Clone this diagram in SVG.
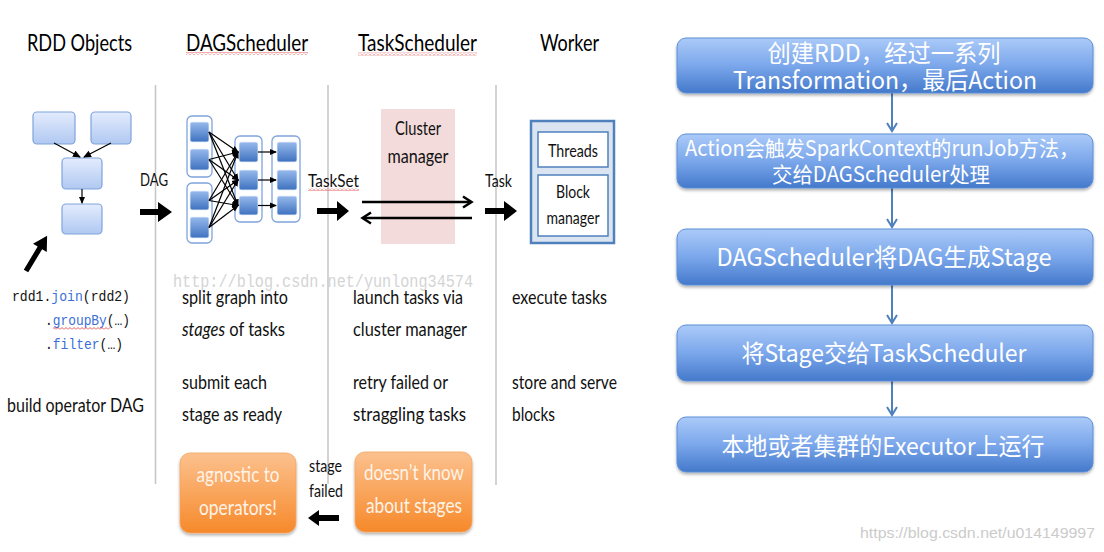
<svg xmlns="http://www.w3.org/2000/svg" width="1104" height="552" viewBox="0 0 1104 552">
<defs>
<linearGradient id="gRdd" x1="0" y1="0" x2="0" y2="1"><stop offset="0" stop-color="#e3ecfd"/><stop offset="1" stop-color="#b0c8f1"/></linearGradient>
<linearGradient id="gSq" x1="0" y1="0" x2="0" y2="1"><stop offset="0" stop-color="#97baec"/><stop offset="1" stop-color="#3e71bf"/></linearGradient>
<linearGradient id="gFlow" x1="0" y1="0" x2="0" y2="1"><stop offset="0" stop-color="#abcaf8"/><stop offset="0.5" stop-color="#7ba7eb"/><stop offset="1" stop-color="#4479cb"/></linearGradient>
<linearGradient id="gOr" x1="0" y1="0" x2="0" y2="1"><stop offset="0" stop-color="#fcc18e"/><stop offset="1" stop-color="#f6892a"/></linearGradient>
<filter id="sh" x="-10%" y="-10%" width="120%" height="140%"><feDropShadow dx="0" dy="2" stdDeviation="1.5" flood-color="#000" flood-opacity="0.3"/></filter>
<marker id="mk" markerWidth="7" markerHeight="7" refX="6" refY="3.5" orient="auto" markerUnits="userSpaceOnUse"><path d="M0,0.5 L7,3.5 L0,6.5 z" fill="#000"/></marker>
<marker id="mk2" markerWidth="8" markerHeight="8" refX="7" refY="4" orient="auto" markerUnits="userSpaceOnUse"><path d="M0,0.5 L8,4 L0,7.5 z" fill="#000"/></marker>
<pattern id="wave" x="0" y="0" width="4" height="3" patternUnits="userSpaceOnUse"><path d="M0,2.5 L2,0.5 L4,2.5" fill="none" stroke="#e03030" stroke-width="0.8"/></pattern>
<style>
.h{font-family:Lato,"Open Sans",sans-serif;font-size:24px;fill:#000}
.t{font-family:Lato,"Open Sans",sans-serif;font-size:20px;fill:#111}
.sm{font-family:Lato,"Open Sans",sans-serif;font-size:18px;fill:#111}
.code{font-family:"Liberation Mono",monospace;font-size:15px;fill:#111}
.kw{fill:#3a6fd8}
.ot{font-family:Lato,"Open Sans",sans-serif;font-size:22px;fill:#fff3e8}
.ft{font-family:"Noto Sans CJK SC",sans-serif;fill:#fff;text-anchor:middle}
.rule{stroke:#c4c4c4;stroke-width:1.5}
.rdd{fill:url(#gRdd);stroke:#7fa4dc;stroke-width:1.2}
.sq{fill:url(#gSq);stroke:#e8f0fc;stroke-width:0.8}
.grp{fill:#fff;stroke:#7fa4dc;stroke-width:1.3}
.flow{fill:url(#gFlow);stroke:#5d8fd6;stroke-width:1;filter:url(#sh)}
.orb{fill:url(#gOr);stroke:#f4a460;stroke-width:0.8;filter:url(#sh)}
.blk{fill:#000}
.thin{stroke:#000;stroke-width:1.2;fill:none}
.fa{stroke:#4f81bd;stroke-width:2;fill:none}
</style>
</defs>
<rect width="1104" height="552" fill="#fff"/>

<!-- column rules -->
<line class="rule" x1="155.5" y1="85" x2="155.5" y2="484"/>
<line class="rule" x1="328" y1="85" x2="328" y2="484"/>
<line class="rule" x1="496" y1="85" x2="496" y2="485"/>

<!-- headings -->
<g id="headings">
<text class="h" x="27" y="51" textLength="105" lengthAdjust="spacingAndGlyphs">RDD Objects</text>
<text class="h" x="186" y="51" textLength="122" lengthAdjust="spacingAndGlyphs">DAGScheduler</text>
<rect x="186" y="52" width="122" height="3" fill="url(#wave)"/>
<text class="h" x="358" y="51" textLength="119" lengthAdjust="spacingAndGlyphs">TaskScheduler</text>
<rect x="358" y="52.5" width="119" height="3" fill="url(#wave)"/>
<text class="h" x="540" y="51" textLength="59" lengthAdjust="spacingAndGlyphs">Worker</text>
</g>

<!-- watermark -->
<text x="173" y="287" font-family="'Liberation Mono',monospace" font-size="18" fill="#d4d4d4" textLength="300" lengthAdjust="spacingAndGlyphs">http://blog.csdn.net/yunlong34574</text>

<!-- RDD objects -->
<g id="rdd-graph">
<rect class="rdd" x="33" y="112" width="42" height="32" rx="4"/>
<rect class="rdd" x="91" y="112" width="40" height="32" rx="4"/>
<rect class="rdd" x="62" y="158" width="40" height="31" rx="4"/>
<rect class="rdd" x="62" y="204" width="40" height="30" rx="4"/>
</g>

<!-- DAG scheduler graph -->
<g id="dag-graph">
<rect class="grp" x="187" y="116" width="25" height="61" rx="5"/>
<rect class="grp" x="187" y="183" width="25" height="60" rx="5"/>
<rect class="grp" x="235" y="136" width="27" height="86" rx="5"/>
<rect class="grp" x="272" y="136" width="28" height="86" rx="5"/>
<rect class="sq" x="190" y="122" width="19" height="20" rx="2"/>
<rect class="sq" x="190" y="149" width="19" height="21" rx="2"/>
<rect class="sq" x="190" y="191" width="19" height="19" rx="2"/>
<rect class="sq" x="190" y="217" width="19" height="21" rx="2"/>
<rect class="sq" x="239" y="142" width="19" height="20" rx="2"/>
<rect class="sq" x="239" y="170" width="19" height="20" rx="2"/>
<rect class="sq" x="239" y="196" width="19" height="19" rx="2"/>
<rect class="sq" x="277" y="142" width="20" height="20" rx="2"/>
<rect class="sq" x="277" y="170" width="20" height="20" rx="2"/>
<rect class="sq" x="277" y="196" width="20" height="19" rx="2"/>
</g>

<!-- Cluster manager -->
<g id="cluster-manager">
<rect x="381" y="109" width="74" height="135" fill="#f2dbda"/>
<text class="t" x="418" y="135" text-anchor="middle" textLength="46" lengthAdjust="spacingAndGlyphs">Cluster</text>
<text class="t" x="418" y="163" text-anchor="middle" textLength="61" lengthAdjust="spacingAndGlyphs">manager</text>
</g>

<!-- Worker -->
<g id="worker">
<rect x="531" y="121" width="83" height="122" fill="#dbe5f1" stroke="#4f81bd" stroke-width="2.5"/>
<rect x="538" y="132" width="70" height="35" fill="#fff" stroke="#4f81bd" stroke-width="1.5"/>
<rect x="538" y="175" width="70" height="61" fill="#fff" stroke="#4f81bd" stroke-width="1.5"/>
<text class="sm" x="573" y="157" text-anchor="middle" textLength="50" lengthAdjust="spacingAndGlyphs">Threads</text>
<text class="sm" x="573" y="198" text-anchor="middle" textLength="34" lengthAdjust="spacingAndGlyphs">Block</text>
<text class="sm" x="573" y="224" text-anchor="middle" textLength="53" lengthAdjust="spacingAndGlyphs">manager</text>
</g>

<!-- connectors -->
<g id="connectors">
<line class="thin" stroke-width="2" x1="54" y1="143" x2="80" y2="157" marker-end="url(#mk2)"/>
<line class="thin" stroke-width="2" x1="111" y1="143" x2="84" y2="157" marker-end="url(#mk2)"/>
<line class="thin" stroke-width="1.6" x1="82" y1="189" x2="82" y2="203" marker-end="url(#mk)"/>
<line class="thin" x1="209" y1="132" x2="238" y2="152" marker-end="url(#mk)"/>
<line class="thin" x1="209" y1="132" x2="238" y2="180" marker-end="url(#mk)"/>
<line class="thin" x1="209" y1="132" x2="238" y2="205.5" marker-end="url(#mk)"/>
<line class="thin" x1="209" y1="159.5" x2="238" y2="152" marker-end="url(#mk)"/>
<line class="thin" x1="209" y1="159.5" x2="238" y2="180" marker-end="url(#mk)"/>
<line class="thin" x1="209" y1="159.5" x2="238" y2="205.5" marker-end="url(#mk)"/>
<line class="thin" x1="209" y1="200.5" x2="238" y2="152" marker-end="url(#mk)"/>
<line class="thin" x1="209" y1="200.5" x2="238" y2="180" marker-end="url(#mk)"/>
<line class="thin" x1="209" y1="200.5" x2="238" y2="205.5" marker-end="url(#mk)"/>
<line class="thin" x1="209" y1="227.5" x2="238" y2="152" marker-end="url(#mk)"/>
<line class="thin" x1="209" y1="227.5" x2="238" y2="180" marker-end="url(#mk)"/>
<line class="thin" x1="209" y1="227.5" x2="238" y2="205.5" marker-end="url(#mk)"/>
<line class="thin" stroke-width="1.5" x1="258" y1="152" x2="276" y2="152" marker-end="url(#mk)"/>
<line class="thin" stroke-width="1.5" x1="258" y1="180" x2="276" y2="180" marker-end="url(#mk)"/>
<line class="thin" stroke-width="1.5" x1="258" y1="205.5" x2="276" y2="205.5" marker-end="url(#mk)"/>
<polygon class="blk" transform="translate(26,271) rotate(-59)" points="0,-2.6 27,-2.6 27,-8 41,0 27,8 27,2.6 0,2.6"/>
<polygon class="blk" points="140,209 158,209 158,202 172,212 158,222 158,215 140,215"/>
<polygon class="blk" points="317,208 337,208 337,201 349,211 337,221 337,214 317,214"/>
<polygon class="blk" points="485,208 504,208 504,201 517,211 504,221 504,214 485,214"/>
<polygon class="blk" points="339,515 319,515 319,510 308,518 319,526 319,521 339,521"/>
<line x1="362" y1="202" x2="471" y2="202" stroke="#000" stroke-width="2.5"/>
<polyline points="463,196.5 471.5,202 463,207.5" fill="none" stroke="#000" stroke-width="2.5"/>
<line x1="363" y1="218" x2="472" y2="218" stroke="#000" stroke-width="2.5"/>
<polyline points="371,212.5 362.5,218 371,223.5" fill="none" stroke="#000" stroke-width="2.5"/>
<line class="fa" x1="892" y1="93" x2="892" y2="131"/>
<polyline class="fa" points="887,123 892,131 897,123"/>
<line class="fa" x1="892" y1="188" x2="892" y2="227"/>
<polyline class="fa" points="887,219 892,227 897,219"/>
<line class="fa" x1="892" y1="285" x2="892" y2="323"/>
<polyline class="fa" points="887,315 892,323 897,315"/>
<line class="fa" x1="892" y1="381" x2="892" y2="415"/>
<polyline class="fa" points="887,407 892,415 897,407"/>
</g>

<!-- arrow labels -->
<g id="arrow-labels">
<text class="sm" x="140" y="186" textLength="28" lengthAdjust="spacingAndGlyphs">DAG</text>
<text class="sm" x="308" y="187" textLength="51" lengthAdjust="spacingAndGlyphs">TaskSet</text>
<rect x="308" y="188" width="51" height="3" fill="url(#wave)"/>
<text class="sm" x="485" y="187" textLength="27" lengthAdjust="spacingAndGlyphs">Task</text>
<text class="sm" x="309" y="472" font-size="17" textLength="33" lengthAdjust="spacingAndGlyphs">stage</text>
<text class="sm" x="309" y="497" font-size="17" textLength="34" lengthAdjust="spacingAndGlyphs">failed</text>
</g>

<g id="rdd-text">
<text class="code" x="12" y="301" textLength="118" lengthAdjust="spacingAndGlyphs">rdd1.<tspan class="kw">join</tspan>(rdd2)</text>
<text class="code" x="45" y="325" textLength="85" lengthAdjust="spacingAndGlyphs">.<tspan class="kw">groupBy</tspan>(…)</text>
<rect x="53" y="327" width="57" height="3" fill="url(#wave)"/>
<text class="code" x="45" y="349" textLength="78" lengthAdjust="spacingAndGlyphs">.<tspan class="kw">filter</tspan>(…)</text>
<text class="t" x="7" y="412" textLength="137" lengthAdjust="spacingAndGlyphs">build operator DAG</text>
</g>

<g id="dag-text">
<text class="t" x="182" y="304" textLength="106" lengthAdjust="spacingAndGlyphs">split graph into</text>
<text class="t" x="182" y="336" textLength="103" lengthAdjust="spacingAndGlyphs"><tspan font-style="italic">stages</tspan> of tasks</text>
<text class="t" x="182" y="389" textLength="85" lengthAdjust="spacingAndGlyphs">submit each</text>
<text class="t" x="182" y="421" textLength="100" lengthAdjust="spacingAndGlyphs">stage as ready</text>
</g>

<g id="task-text">
<text class="t" x="353" y="304" textLength="110" lengthAdjust="spacingAndGlyphs">launch tasks via</text>
<text class="t" x="353" y="336" textLength="114" lengthAdjust="spacingAndGlyphs">cluster manager</text>
<text class="t" x="353" y="389" textLength="95" lengthAdjust="spacingAndGlyphs">retry failed or</text>
<text class="t" x="353" y="421" textLength="113" lengthAdjust="spacingAndGlyphs">straggling tasks</text>
</g>

<g id="worker-text">
<text class="t" x="512" y="304" textLength="95" lengthAdjust="spacingAndGlyphs">execute tasks</text>
<text class="t" x="512" y="389" textLength="105" lengthAdjust="spacingAndGlyphs">store and serve</text>
<text class="t" x="512" y="421" textLength="43" lengthAdjust="spacingAndGlyphs">blocks</text>
</g>

<g id="agnostic">
<rect class="orb" x="180" y="453" width="116" height="80" rx="10"/>
<text class="ot" x="238" y="482" text-anchor="middle" textLength="83" lengthAdjust="spacingAndGlyphs">agnostic to</text>
<text class="ot" x="238" y="515" text-anchor="middle" textLength="78" lengthAdjust="spacingAndGlyphs">operators!</text>
</g>

<g id="no-stages">
<rect class="orb" x="355" y="452" width="117" height="80" rx="10"/>
<text class="ot" x="414" y="480" text-anchor="middle" textLength="100" lengthAdjust="spacingAndGlyphs">doesn’t know</text>
<text class="ot" x="414" y="513" text-anchor="middle" textLength="96" lengthAdjust="spacingAndGlyphs">about stages</text>
</g>

<g id="flow1">
<rect class="flow" x="677" y="38" width="416" height="55" rx="9"/>
<text class="ft" x="884" y="62" font-size="24" textLength="233" lengthAdjust="spacingAndGlyphs">创建RDD，经过一系列</text>
<text class="ft" x="885" y="89" font-size="24" textLength="304" lengthAdjust="spacingAndGlyphs">Transformation，最后Action</text>
</g>
<g id="flow2">
<rect class="flow" x="677" y="134" width="416" height="54" rx="9"/>
<text class="ft" x="882" y="156" font-size="21" textLength="394" lengthAdjust="spacingAndGlyphs">Action会触发SparkContext的runJob方法，</text>
<text class="ft" x="881" y="182" font-size="21" textLength="218" lengthAdjust="spacingAndGlyphs">交给DAGScheduler处理</text>
</g>
<g id="flow3">
<rect class="flow" x="677" y="229" width="416" height="56" rx="9"/>
<text class="ft" x="884" y="266" font-size="24" textLength="335" lengthAdjust="spacingAndGlyphs">DAGScheduler将DAG生成Stage</text>
</g>
<g id="flow4">
<rect class="flow" x="677" y="325" width="416" height="56" rx="9"/>
<text class="ft" x="884" y="362" font-size="24" textLength="285" lengthAdjust="spacingAndGlyphs">将Stage交给TaskScheduler</text>
</g>
<g id="flow5">
<rect class="flow" x="677" y="417" width="416" height="55" rx="9"/>
<text class="ft" x="883" y="455" font-size="24" textLength="323" lengthAdjust="spacingAndGlyphs">本地或者集群的Executor上运行</text>
</g>

<text x="860" y="538" font-family="'Liberation Sans',sans-serif" font-size="15" fill="#cbcbcb" textLength="235" lengthAdjust="spacingAndGlyphs">https://blog.csdn.net/u014149997</text>
</svg>
